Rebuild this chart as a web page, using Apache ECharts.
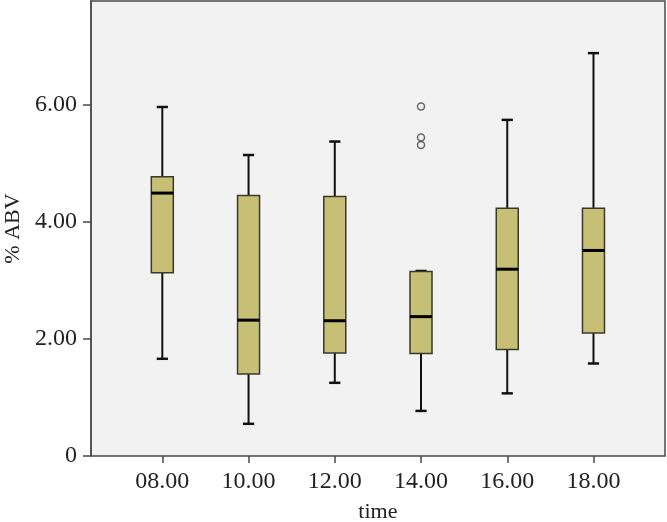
<!DOCTYPE html>
<html><head><meta charset="utf-8">
<script src="https://cdn.jsdelivr.net/npm/echarts@6/dist/echarts.min.js"></script>
<style>html,body{margin:0;padding:0;background:#fff}#c{width:667px;height:522px}</style>
</head><body><div id="c"></div>
<script>
var categories = ['08.00', '10.00', '12.00', '14.00', '16.00', '18.00'];
var whiskerLow = [1.66, 0.55, 1.25, 0.77, 1.07, 1.58];
var q1 = [3.13, 1.40, 1.76, 1.75, 1.82, 2.10];
var medians = [4.49, 2.32, 2.31, 2.38, 3.19, 3.51];
var q3 = [4.77, 4.45, 4.43, 3.15, 4.23, 4.23];
var whiskerHigh = [5.96, 5.14, 5.37, 3.16, 5.74, 6.88];
var outliers = [['14.00', 5.97], ['14.00', 5.44], ['14.00', 5.31]];
var yTicks = [0, 2, 4, 6];

var boxData = categories.map(function (c, i) {
  return [i, whiskerLow[i], q1[i], medians[i], q3[i], whiskerHigh[i]];
});

var chart = echarts.init(document.getElementById('c'), null, {renderer: 'canvas'});
var serif = 'Liberation Serif, Times New Roman, serif';
var axisCol = '#4a4a4a';
chart.setOption({
  animation: false,
  grid: [
    {left: 119.2, right: 30.4, top: 1, bottom: 66, outerBoundsMode: 'none', containLabel: false},
    {left: 91, right: 2, top: 1, bottom: 66, outerBoundsMode: 'none', containLabel: false, show: true, backgroundColor: '#f2f2f2', borderColor: axisCol, borderWidth: 1.5, z: 0}
  ],
  xAxis: [
    {type: 'category', gridIndex: 0, data: categories, boundaryGap: true,
     axisLine: {show: false},
     axisTick: {show: true, alignWithLabel: true, inside: false, length: 7, lineStyle: {color: axisCol, width: 1.5}},
     axisLabel: {color: '#222', fontFamily: serif, fontSize: 24, margin: 14},
     name: 'time', nameLocation: 'middle', nameGap: 45,
     nameTextStyle: {color: '#222', fontFamily: serif, fontSize: 22}},
    {type: 'value', gridIndex: 1, show: false, min: 0, max: 1}
  ],
  yAxis: [
    {type: 'value', gridIndex: 0, min: 0, max: 7.77, show: false},
    {type: 'value', gridIndex: 1, min: 0, max: 7.77, interval: 2,
     axisLine: {show: true, lineStyle: {color: axisCol, width: 1.5}},
     axisTick: {show: true, length: 8, lineStyle: {color: axisCol, width: 1.5}},
     splitLine: {show: false},
     axisLabel: {color: '#222', fontFamily: serif, fontSize: 24, margin: 14, showMaxLabel: false,
       formatter: function (v) { return yTicks.indexOf(v) < 0 ? '' : (v === 0 ? '0' : v.toFixed(2)); }},
     name: '% ABV', nameLocation: 'middle', nameGap: 62, nameRotate: 90,
     nameTextStyle: {color: '#222', fontFamily: serif, fontSize: 22}}
  ],
  series: [
    {type: 'custom', xAxisIndex: 0, yAxisIndex: 0, data: boxData, z: 5,
     renderItem: function (params, api) {
       var x = api.value(0);
       var band = api.size([1, 0])[0];
       var bw = band * 0.255, cw = band * 0.13;
       var pLow = api.coord([x, api.value(1)]);
       var pQ1 = api.coord([x, api.value(2)]);
       var pMed = api.coord([x, api.value(3)]);
       var pQ3 = api.coord([x, api.value(4)]);
       var pHigh = api.coord([x, api.value(5)]);
       var cx = pMed[0];
       var ls = {stroke: '#111', lineWidth: 2};
       return {type: 'group', children: [
         {type: 'line', shape: {x1: cx, y1: pQ3[1], x2: cx, y2: pHigh[1]}, style: ls},
         {type: 'line', shape: {x1: cx, y1: pQ1[1], x2: cx, y2: pLow[1]}, style: ls},
         {type: 'line', shape: {x1: cx - cw / 2, y1: pHigh[1], x2: cx + cw / 2, y2: pHigh[1]}, style: {stroke: '#111', lineWidth: 2.5}},
         {type: 'line', shape: {x1: cx - cw / 2, y1: pLow[1], x2: cx + cw / 2, y2: pLow[1]}, style: {stroke: '#111', lineWidth: 2.5}},
         {type: 'rect', shape: {x: cx - bw / 2, y: pQ3[1], width: bw, height: pQ1[1] - pQ3[1]},
          style: {fill: '#c7bf76', stroke: '#3a3a2a', lineWidth: 1.5}},
         {type: 'line', shape: {x1: cx - bw / 2, y1: pMed[1], x2: cx + bw / 2, y2: pMed[1]}, style: {stroke: '#000', lineWidth: 3}}
       ]};
     }},
    {type: 'scatter', xAxisIndex: 0, yAxisIndex: 0, data: outliers, z: 6,
     symbol: 'circle', symbolSize: 7,
     itemStyle: {color: 'rgba(0,0,0,0)', borderColor: '#444', borderWidth: 1.5}}
  ]
});
</script></body></html>
